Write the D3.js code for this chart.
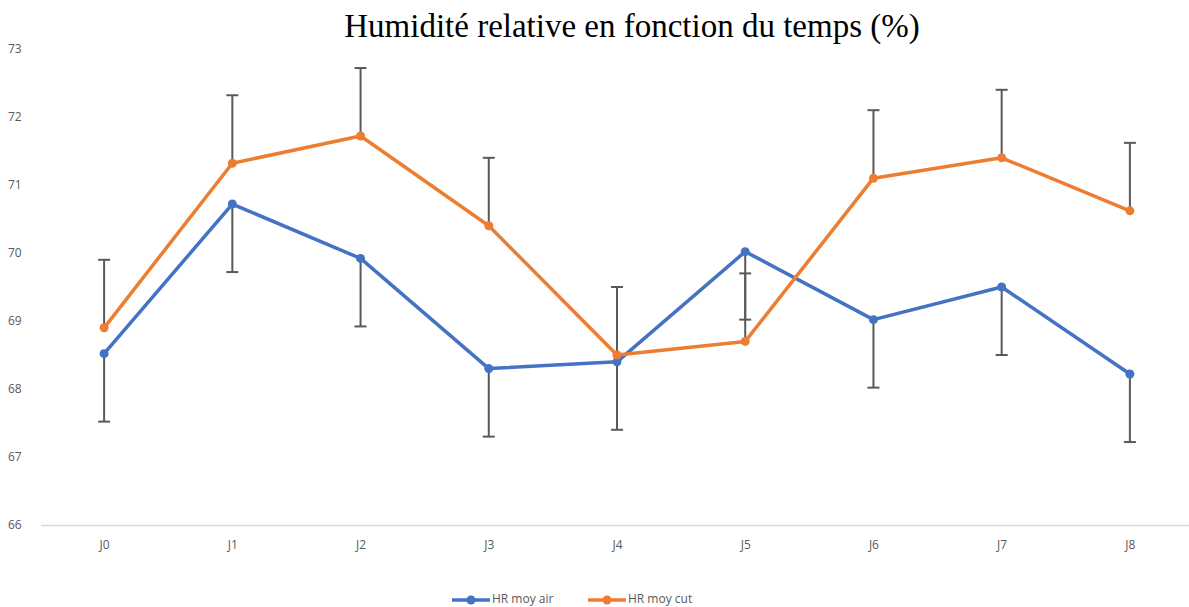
<!DOCTYPE html>
<html>
<head>
<meta charset="utf-8">
<script src="https://cdn.jsdelivr.net/npm/d3@7"></script>
<style>
  body { margin: 0; background: #fff; }
</style>
</head>
<body>
<div id="chart"></div>
<script>
const W = 1189, H = 607;

const days = ['J0','J1','J2','J3','J4','J5','J6','J7','J8'];
const hrAir = [68.52, 70.72, 69.92, 68.3, 68.4, 70.02, 69.02, 69.5, 68.22];
const hrCut = [68.9, 71.32, 71.72, 70.4, 68.5, 68.7, 71.1, 71.4, 70.62];
const errAir = [1, 1, 1, 1, 1, 1, 1, 1, 1];   // barres d'erreur vers le bas
const errCut = [1, 1, 1, 1, 1, 1, 1, 1, 1];   // barres d'erreur vers le haut
const yTicks = [66, 67, 68, 69, 70, 71, 72, 73];

const BLUE = "#4472C4", ORANGE = "#ED7D31", GREY = "#595959";
const FONT = "'Open Sans', 'Noto Sans', sans-serif";

const svg = d3.select("#chart").append("svg")
    .attr("width", W).attr("height", H)
    .style("font-family", FONT);

const x = d3.scalePoint().domain(days).range([40, 1194]).padding(0.5);
const y = d3.scaleLinear().domain([66, 73]).range([525, 49]);

// titre
svg.append("text")
    .attr("x", 632).attr("y", 37)
    .attr("text-anchor", "middle")
    .style("font-family", "'Liberation Serif', 'Times New Roman', serif")
    .style("font-size", "33px")
    .attr("fill", "#000")
    .text("Humidité relative en fonction du temps (%)");

// axe Y (labels seulement)
svg.append("g").selectAll("text")
    .data(yTicks).enter().append("text")
    .attr("x", 8).attr("y", d => y(d))
    .attr("dy", "0.35em")
    .style("font-size", "12px")
    .attr("fill", GREY)
    .text(d => d);

// axe X
const xAxis = svg.append("g")
    .attr("transform", `translate(0, ${y(66)})`)
    .call(d3.axisBottom(x).tickSize(0).tickPadding(15));
xAxis.select(".domain").remove();
xAxis.selectAll("text").style("font-size", "12px").attr("fill", GREY)
    .style("font-family", FONT);
svg.append("line")
    .attr("x1", 41).attr("x2", W)
    .attr("y1", y(66) + 0.5).attr("y2", y(66) + 0.5)
    .attr("stroke", "#d9d9d9").attr("stroke-width", 1.5);

// barres d'erreur
function errBars(vals, errs, dir) {
  const g = svg.append("g").attr("stroke", GREY).attr("stroke-width", 2);
  days.forEach((d, i) => {
    const y0 = y(vals[i]), y1 = y(vals[i] + dir * errs[i]);
    g.append("line").attr("x1", x(d)).attr("x2", x(d)).attr("y1", y0).attr("y2", y1);
    g.append("line").attr("x1", x(d) - 6).attr("x2", x(d) + 6).attr("y1", y1).attr("y2", y1);
  });
}
errBars(hrAir, errAir, -1);
errBars(hrCut, errCut, 1);

// séries
function series(vals, color) {
  const line = d3.line().x((d, i) => x(days[i])).y(d => y(d));
  svg.append("path").datum(vals)
      .attr("d", line)
      .attr("fill", "none")
      .attr("stroke", color)
      .attr("stroke-width", 3.5)
      .attr("stroke-linejoin", "round");
  svg.append("g").selectAll("circle")
      .data(vals).enter().append("circle")
      .attr("cx", (d, i) => x(days[i]))
      .attr("cy", d => y(d))
      .attr("r", 4.5)
      .attr("fill", color);
}
series(hrAir, BLUE);
series(hrCut, ORANGE);

// légende
const legend = [
  { name: "HR moy air", color: BLUE, x: 452 },
  { name: "HR moy cut", color: ORANGE, x: 588 }
];
const lg = svg.append("g");
legend.forEach(l => {
  lg.append("line").attr("x1", l.x).attr("x2", l.x + 38)
    .attr("y1", 600).attr("y2", 600)
    .attr("stroke", l.color).attr("stroke-width", 3.5);
  lg.append("circle").attr("cx", l.x + 19).attr("cy", 600).attr("r", 4.5).attr("fill", l.color);
  lg.append("text").attr("x", l.x + 40).attr("y", 603)
    .style("font-size", "12px").attr("fill", GREY)
    .text(l.name);
});
</script>
</body>
</html>
